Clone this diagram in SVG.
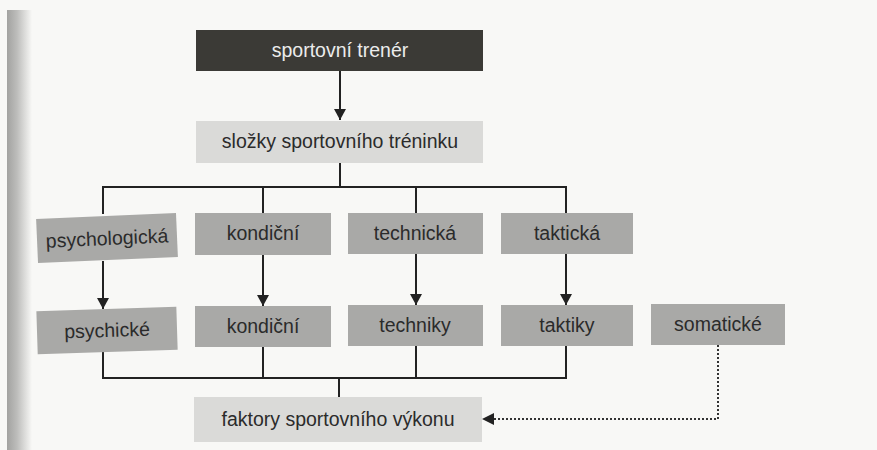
<svg xmlns="http://www.w3.org/2000/svg" width="877" height="450" viewBox="0 0 877 450">
<defs>
<linearGradient id="edge" x1="0" y1="0" x2="1" y2="0">
<stop offset="0" stop-color="#a2a2a0"/>
<stop offset="0.4" stop-color="#bdbdbb"/>
<stop offset="1" stop-color="#f8f8f6"/>
</linearGradient>
<marker id="arr" viewBox="0 0 12 12" refX="11" refY="6" markerWidth="12" markerHeight="12" markerUnits="userSpaceOnUse" orient="auto">
<path d="M0,0 L11,6 L0,12 Z" fill="#222"/>
</marker>
<style>
.t{font-family:"Liberation Sans",Arial,sans-serif;font-size:19.5px;text-anchor:middle;fill:#2b2b2b}
.w{fill:#ececec}
.dark{fill:#3b3a36}
.light{fill:#dadad8}
.mid{fill:#a9a9a7}
.ln{fill:none;stroke:#222;stroke-width:2}
.dot{fill:none;stroke:#333;stroke-width:2;stroke-dasharray:2 2}
</style>
</defs>
<rect width="877" height="450" fill="#f8f8f6"/>
<rect x="7" y="10" width="25" height="440" fill="url(#edge)"/>
<g id="connectors">
<path class="ln" d="M340,71 V120" marker-end="url(#arr)"/>
<path class="ln" d="M340,163 V187"/>
<path class="ln" d="M103,214 V187 H566 V213"/>
<path class="ln" d="M263,187 V213"/>
<path class="ln" d="M416,187 V213"/>
<path class="ln" d="M103,261 V309" marker-end="url(#arr)"/>
<path class="ln" d="M263,255 V306" marker-end="url(#arr)"/>
<path class="ln" d="M416,254 V305" marker-end="url(#arr)"/>
<path class="ln" d="M566,254 V305" marker-end="url(#arr)"/>
<path class="ln" d="M103,352 V378 H566 V346"/>
<path class="ln" d="M263,347 V378"/>
<path class="ln" d="M416,346 V378"/>
<path class="ln" d="M339,378 V397"/>
<path class="dot" d="M718,345 V419 H493"/>
<path d="M482,419 L494,413 L494,425 Z" fill="#222"/>
</g>
<g id="sportovni-trener">
<rect class="dark" x="196" y="30" width="287" height="41"/>
<text class="t w" x="340" y="57">sportovní trenér</text>
</g>
<g id="slozky">
<rect class="light" x="196" y="121" width="287" height="42"/>
<text class="t" x="340" y="148">složky sportovního tréninku</text>
</g>
<g id="psychologicka" transform="rotate(-2.5 107 238)">
<rect class="mid" x="37" y="216" width="140" height="44"/>
<text class="t" x="107" y="245">psychologická</text>
</g>
<g id="kondicni1">
<rect class="mid" x="195" y="213" width="136" height="42"/>
<text class="t" x="263" y="240">kondiční</text>
</g>
<g id="technicka">
<rect class="mid" x="348" y="213" width="135" height="41"/>
<text class="t" x="415" y="240">technická</text>
</g>
<g id="takticka">
<rect class="mid" x="501" y="213" width="132" height="41"/>
<text class="t" x="567" y="240">taktická</text>
</g>
<g id="psychicke" transform="rotate(-1.8 107 330)">
<rect class="mid" x="37" y="309" width="140" height="43"/>
<text class="t" x="107" y="337">psychické</text>
</g>
<g id="kondicni2">
<rect class="mid" x="195" y="306" width="136" height="41"/>
<text class="t" x="263" y="333">kondiční</text>
</g>
<g id="techniky">
<rect class="mid" x="348" y="305" width="135" height="41"/>
<text class="t" x="415" y="332">techniky</text>
</g>
<g id="taktiky">
<rect class="mid" x="501" y="305" width="132" height="41"/>
<text class="t" x="567" y="332">taktiky</text>
</g>
<g id="somaticke">
<rect class="mid" x="651" y="304" width="134" height="41"/>
<text class="t" x="718" y="331">somatické</text>
</g>
<g id="faktory">
<rect class="light" x="194" y="397" width="288" height="45"/>
<text class="t" x="338" y="426">faktory sportovního výkonu</text>
</g>
</svg>
